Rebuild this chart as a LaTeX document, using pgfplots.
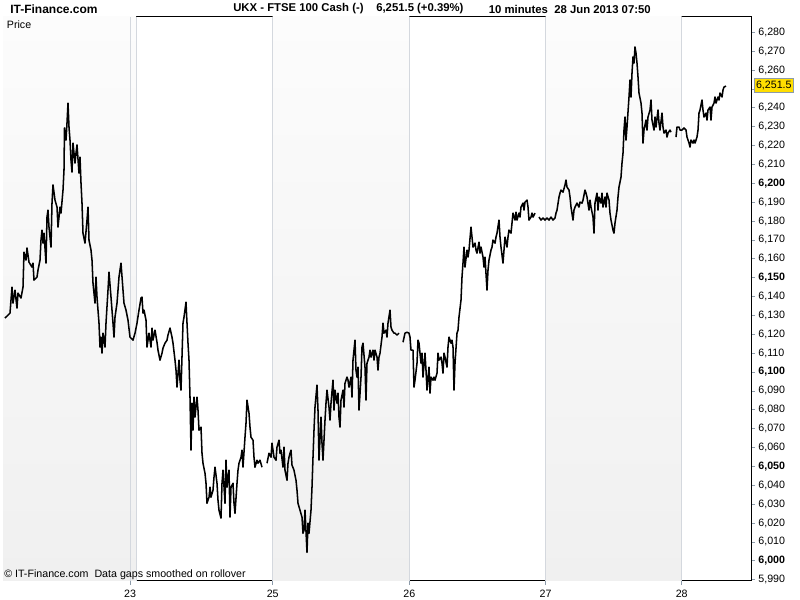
\documentclass[border=0pt]{standalone}
\usepackage{pgfplots}
\pgfplotsset{compat=1.18}
\usepackage{pgfplotstable}
\usepackage{fontspec}
\setmainfont{Liberation Sans}
\definecolor{bandtop}{RGB}{252,252,252}
\definecolor{bandbot}{RGB}{240,240,240}
\definecolor{gridc}{RGB}{212,216,222}
\definecolor{tickc}{RGB}{140,155,170}
\definecolor{pricebox}{RGB}{255,222,0}

\pgfplotstableread{
x y
5 6128.6
10 6131.2
12 6145.0
13 6136.5
15 6143.4
17 6133.9
18 6141.8
21 6139.2
23 6145.0
24 6163.5
26 6159.3
27 6165.7
29 6158.2
32 6155.6
33 6157.7
34 6148.7
37 6150.3
38 6154.0
40 6159.3
41 6169.9
42 6175.2
43 6168.3
44 6173.6
46 6157.7
47 6182.1
48 6185.8
49 6176.8
51 6166.2
52 6189.5
53 6199.1
55 6191.1
57 6187.4
58 6176.8
60 6187.4
61 6184.2
63 6196.4
64 6207.0
64.5 6229.3
66 6222.9
67 6231.9
68 6242.5
69 6229.8
70 6222.9
71 6212.3
72 6205.9
73 6221.3
75 6210.7
76 6216.0
77 6220.3
79 6205.4
80 6213.9
81 6200.1
82 6189.5
83 6173.6
85 6168.3
87 6180.5
88 6187.4
89 6169.9
91 6164.6
92 6159.3
93 6147.1
95 6136.5
96 6150.3
97 6139.7
99 6125.9
100 6113.2
101 6118.5
102 6110.0
103 6120.6
105 6113.2
106 6125.9
108 6143.4
109 6152.9
111 6139.7
113 6125.9
114 6118.5
115 6129.1
117 6136.5
119 6150.3
121 6157.7
123 6143.4
124 6136.5
126 6132.8
128 6127.5
130 6118.5
133 6116.9
135 6120.6
137 6125.9
139 6132.8
141 6139.2
142 6139.7
143 6131.2
144 6132.8
146 6127.5
147 6113.2
149 6120.6
151 6113.2
152 6123.3
153 6116.9
155 6122.2
157 6115.8
158 6111.6
160 6106.3
162 6110.0
163 6112.7
165 6115.3
167 6116.9
168 6119.6
170 6123.3
172 6118.5
173 6115.3
175 6106.3
176 6101.0
177 6092.0
179 6106.3
180 6095.7
181 6090.4
183 6125.9
184 6129.1
186 6137.0
187 6125.9
188 6115.3
189 6106.3
190 6086.7
191 6058.6
192 6083.5
193 6069.2
194 6086.7
195 6076.1
197 6086.7
198 6079.8
199 6069.2
201 6070.8
202 6057.0
203 6051.7
205 6046.4
206 6041.1
207 6030.5
209 6033.7
210 6039.0
211 6033.7
213 6037.4
214 6044.3
215 6049.6
217 6041.1
218 6032.1
219 6026.8
221 6022.6
222 6041.1
223 6048.0
225 6030.5
226 6053.3
227 6039.0
229 6048.0
230 6023.1
231 6039.0
233 6041.1
234 6030.5
235 6025.2
237 6041.1
238 6048.0
239 6051.7
241 6054.9
242 6058.6
243 6049.6
245 6065.5
246 6072.9
247 6085.1
249 6078.2
250 6070.8
251 6065.5
253 6063.9
254 6054.9
255 6049.6
257 6053.3
258 6051.7
260 6053.3
262 6049.6
264 nan
267 6051.7
269 6057.0
271 6054.9
272 6062.3
274 6054.9
276 6053.3
277 6060.2
279 6063.9
280 6057.0
281 6058.6
283 6049.6
284 6060.2
285 6048.0
287 6042.7
288 6051.7
289 6054.9
290 6057.0
291 6058.6
292 6050.7
294 6048.0
296 6042.7
297 6037.4
298 6030.5
300 6026.8
302 6023.1
303 6014.6
304 6016.2
305 6026.8
307 6004.5
308 6019.9
309 6014.6
311 6026.8
312 6039.0
313 6054.9
314 6069.2
315 6081.4
317 6093.1
318 6079.8
319 6053.3
321 6076.1
322 6062.3
323 6053.3
325 6074.5
326 6083.5
327 6090.4
329 6081.4
330 6074.5
331 6083.5
333 6095.7
334 6079.8
335 6090.4
337 6083.5
338 6088.8
339 6076.1
340 6070.8
341 6085.1
343 6090.4
344 6081.4
345 6094.1
347 6097.3
348 6095.7
349 6092.0
351 6097.3
352 6086.7
353 6106.3
355 6116.9
356 6101.0
357 6097.3
358 6102.6
359 6079.8
361 6097.3
362 6113.2
363 6115.3
365 6102.6
366 6085.1
367 6104.7
369 6107.9
370 6111.6
371 6107.9
373 6111.6
374 6106.3
375 6111.6
377 6107.9
378 6101.0
379 6107.9
380 6110.0
382 6118.5
383 6125.9
384 6120.6
386 6122.2
387 6118.5
388 6125.9
390 6132.8
391 6123.8
392 6122.2
394 6120.6
395 6120.6
397 6119.6
399 6120.6
401 nan
403 6115.8
405 6120.6
407 6121.1
409 6120.6
410 6118.5
411 6111.6
413 6111.6
414 6092.0
415 6095.7
417 6104.7
418 6116.9
419 6115.3
421 6104.7
422 6110.0
423 6097.3
425 6110.0
426 6101.0
427 6090.4
429 6102.6
430 6088.8
431 6097.3
433 6095.7
434 6097.3
435 6095.7
437 6099.4
438 6110.0
439 6106.3
441 6107.9
442 6104.7
443 6099.4
444 6110.0
445 6107.9
447 6102.6
448 6113.2
449 6118.5
451 6115.3
452 6116.9
453 6113.2
454 6090.4
455 6104.7
457 6120.6
458 6122.2
459 6129.1
461 6138.1
462 6150.3
463 6157.7
464 6166.2
465 6155.6
467 6164.6
468 6160.9
469 6164.6
471 6176.8
472 6171.5
473 6166.2
475 6168.3
476 6164.6
477 6163.0
479 6168.8
480 6163.0
481 6166.2
483 6160.9
484 6155.6
485 6160.9
487 6143.4
488 6154.0
489 6159.3
491 6164.6
492 6166.2
493 6169.9
495 6168.3
496 6171.5
497 6173.6
499 6180.5
500 6171.5
501 6166.2
503 6157.7
504 6164.6
505 6171.5
507 6166.2
508 6171.5
509 6175.2
511 6173.6
512 6178.9
513 6184.2
515 6180.5
516 6184.7
517 6180.5
519 6184.2
520 6182.1
521 6187.4
523 6189.5
524 6185.8
525 6190.0
527 6191.1
528 6187.4
529 6180.5
531 6182.1
532 6184.2
533 6182.1
535 6184.2
537 nan
539 6182.1
541 6180.5
543 6181.6
545 6180.5
547 6181.6
549 6180.5
551 6182.1
553 6180.5
555 6181.6
556 6184.2
557 6185.8
559 6192.7
560 6194.8
561 6196.4
563 6195.3
565 6199.1
566 6201.7
567 6198.0
569 6196.4
570 6192.7
571 6187.4
573 6180.5
574 6185.8
575 6187.4
577 6189.5
579 6187.4
580 6190.0
582 6189.5
583 6191.1
585 6196.4
586 6194.8
587 6192.7
589 6185.8
590 6191.1
591 6187.4
593 6182.1
594 6173.6
595 6189.5
597 6194.8
598 6185.8
599 6192.7
601 6189.5
602 6194.8
603 6187.4
605 6192.7
606 6187.4
607 6194.8
609 6191.1
610 6184.2
611 6180.5
613 6175.2
614 6173.6
615 6178.9
617 6185.8
618 6192.7
619 6198.0
621 6203.3
622 6210.7
623 6216.0
624 6228.2
625 6235.1
626 6222.9
627 6229.8
629 6245.7
630 6254.7
631 6245.7
632 6258.4
633 6266.9
634 6263.7
635 6272.2
636 6269.0
637 6263.7
638 6256.3
639 6247.8
641 6242.5
642 6237.2
643 6221.3
644 6228.2
646 6233.5
647 6228.2
648 6235.1
650 6238.8
651 6244.1
652 6233.5
654 6228.2
655 6235.1
656 6229.8
658 6238.8
659 6231.9
660 6228.2
662 6237.2
663 6229.8
664 6226.6
666 6228.2
667 6224.5
668 6226.6
670 6228.2
671 6227.1
673 nan
676 6224.5
677 6229.8
679 6229.8
680 6228.2
682 6228.2
684 6229.3
686 6228.2
687 6224.5
689 6221.3
690 6219.2
691 6222.9
693 6221.3
694 6222.9
695 6221.3
697 6224.5
698 6228.2
699 6237.2
700 6238.8
702 6244.1
703 6238.8
704 6235.1
706 6237.2
707 6233.5
708 6238.8
710 6240.4
711 6233.5
712 6240.4
714 6242.5
715 6245.7
716 6242.5
718 6245.7
719 6244.1
720 6247.8
722 6245.7
723 6249.4
724 6251.0
726 6251.5
}\pricedata

\begin{document}
\begin{tikzpicture}
\path[use as bounding box] (0,0) rectangle (600pt,450pt);
\begin{axis}[
  at={(2.25pt,14.25pt)}, anchor=south west,
  scale only axis, width=561pt, height=423pt,
  xmin=3, xmax=751, ymin=5989.3, ymax=6288.1,
  axis line style={black, line width=0.75pt},
  xtick={130,272.7,409.3,545.5,681.7},
  xticklabels={23,25,26,27,28},
  xtick pos=left, ytick pos=right,
  yticklabel pos=right,
  tick align=outside,
  major tick length=3pt,
  every tick/.style={tickc, line width=0.6pt},
  ytick={5990,6000,...,6280},
  yticklabels={{5,990},{\textbf{6,000}},{6,010},{6,020},{6,030},{6,040},{\textbf{6,050}},{6,060},{6,070},{6,080},{6,090},{\textbf{6,100}},{6,110},{6,120},{6,130},{6,140},{\textbf{6,150}},{6,160},{6,170},{6,180},{6,190},{\textbf{6,200}},{6,210},{6,220},{6,230},{6,240},{},{6,260},{6,270},{6,280}},
  ticklabel style={font=\fontsize{8}{9}\selectfont, text=black},
  yticklabel style={anchor=west, xshift=-1pt},
  unbounded coords=jump,
]
\fill[top color=bandtop, bottom color=bandbot] (axis cs:3,5989.3) rectangle (axis cs:136,6288.1);
\fill[top color=bandtop, bottom color=bandbot] (axis cs:272.7,5989.3) rectangle (axis cs:409.3,6288.1);
\fill[top color=bandtop, bottom color=bandbot] (axis cs:545.5,5989.3) rectangle (axis cs:681.7,6288.1);
\foreach \gx in {130,136,272.7,409.3,545.5,681.7}{
  \edef\tmp{\noexpand\draw[gridc, line width=0.6pt] (axis cs:\gx,5989.3) -- (axis cs:\gx,6288.1);}
  \tmp
}
\addplot[black, line width=1.15pt, line join=round] table[x=x,y=y] {\pricedata};
\end{axis}
% titles and notes
\node[anchor=west, inner sep=0pt, font=\bfseries\fontsize{9}{10}\selectfont] at (7.5pt,443.25pt) {IT-Finance.com};
\node[anchor=west, inner sep=0pt, font=\bfseries\fontsize{8.5}{10}\selectfont] at (174.75pt,443.25pt) {UKX - FTSE 100 Cash (-)};
\node[anchor=west, inner sep=0pt, font=\bfseries\fontsize{8.5}{10}\selectfont] at (282pt,443.25pt) {6,251.5 (+0.39\%)};
\node[anchor=east, inner sep=0pt, font=\bfseries\fontsize{8.5}{10}\selectfont] at (488.25pt,443.25pt) {10 minutes\ \ 28 Jun 2013 07:50};
\node[anchor=west, inner sep=0pt, font=\fontsize{8}{9}\selectfont] at (5pt,431.25pt) {Price};
\node[anchor=west, inner sep=0pt, font=\fontsize{8}{9}\selectfont] at (3pt,18.75pt) {© IT-Finance.com\ \ Data gaps smoothed on rollover};
\node[anchor=west, fill=pricebox, draw=tickc, line width=0.6pt, inner xsep=1.2pt, inner ysep=0pt, minimum height=10.5pt, font=\fontsize{8}{9}\selectfont] at (565.5pt,386.25pt) {6,251.5};
\end{tikzpicture}
\end{document}
